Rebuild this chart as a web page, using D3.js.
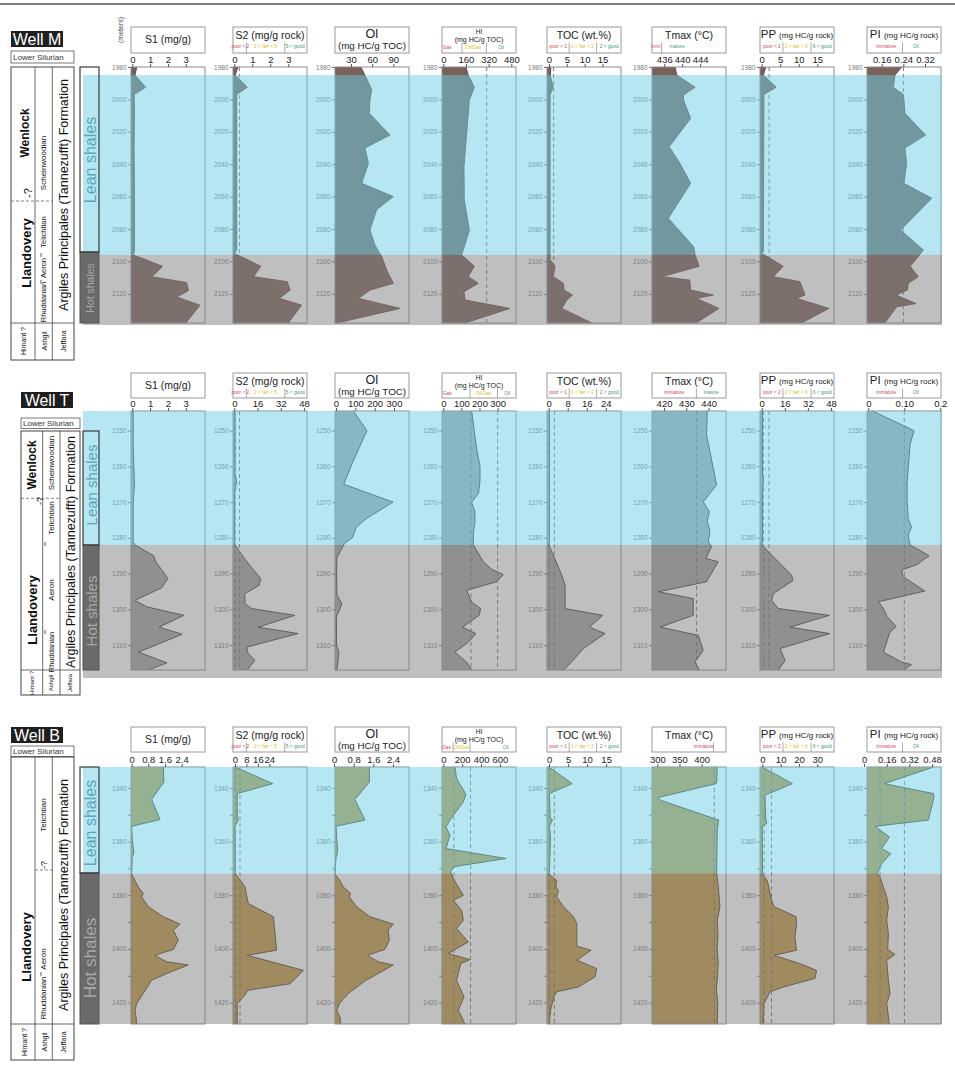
<!DOCTYPE html>
<html><head><meta charset="utf-8">
<script src="https://cdn.jsdelivr.net/npm/d3@7"></script>
<style>
body{margin:0;background:#fff}
svg{display:block}
text{font-family:"Liberation Sans",Arial,Helvetica,sans-serif}
</style>
</head><body>
<svg id="c" width="955" height="1076"></svg>
<script>
// ---------------- DATA (depth m, value) ----------------
// Well M
const M_S1 = [[1980,0.25],[1985,0.15],[1992.5,0.75],[1997,0.1],[2005,0.12],[2030,0.1],[2060,0.12],[2094,0.12],[2096,0.05],[2103,1.7],[2109.5,1.1],[2113,3.05],[2118,3.15],[2122,2.5],[2127,3.8],[2138,3.0]];
const M_S2 = [[1980,0.2],[1985,0.05],[1992.5,0.72],[1997,0.13],[2020,0.13],[2060,0.13],[2093,0.13],[2095,0],[2103,1.48],[2109.4,1.06],[2112.5,2.94],[2117.7,3.1],[2122.8,2.5],[2127,3.74],[2138,3.0]];
const M_OI = [[1980,44],[1988,53],[1994,59.3],[2000.4,56.9],[2008.6,55.9],[2022,85.3],[2030,49.8],[2039.5,54.6],[2051.8,45.1],[2060,90],[2068,66.4],[2080.6,56.9],[2090,64],[2097,73.5],[2105.3,80.5],[2113.5,90],[2117.7,57],[2122.8,40.4],[2129,99.4],[2138,10]];
const M_HI = [[1980,160],[1985,176],[1992.5,219],[2000.4,184],[2021,165],[2041.5,146],[2062,148],[2080.6,184],[2091,148],[2096,129],[2103,219],[2109.4,176],[2113.5,247],[2118.7,146],[2123.8,153],[2129,470],[2138,153]];
const M_TOC = [[1980,0.5],[1986,0.4],[1992.5,1.2],[1997,0.3],[2099,0.3],[2103,1.7],[2109.4,1.2],[2113.5,4],[2117.7,4.2],[2120.7,6.6],[2123.8,5],[2129,3.6],[2138,12]];
const M_TMAX = [[1980,438.4],[1985,438.8],[1992.5,442.9],[1997.3,440.3],[2000.4,440.3],[2011.7,441.9],[2029.2,437.1],[2039.5,439.5],[2051.8,441.9],[2073.4,436.9],[2091,442.6],[2096,442.9],[2103,443.8],[2109.4,435.4],[2111.5,441.7],[2117.7,441.9],[2120.7,447],[2122.8,443.2],[2129,448.2],[2138,443.1]];
const M_PP = [[1980,1.1],[1985,0.45],[1992.5,3.9],[1997,0.6],[2094,0.45],[2095,0],[2103,5.8],[2109.4,3.1],[2112.5,10.3],[2120.7,11.7],[2122.8,9.4],[2129,18.1],[2138,10.8]];
const M_PI = [[1980,0.234],[1985,0.209],[1992.5,0.203],[1997,0.24],[2000.4,0.242],[2008.6,0.246],[2022,0.322],[2030,0.246],[2039.5,0.252],[2051.8,0.242],[2061,0.345],[2080.6,0.23],[2093,0.314],[2103,0.265],[2109.4,0.295],[2113.5,0.258],[2117.7,0.255],[2120.7,0.213],[2126,0.287],[2128,0.215],[2138,0.172]];
// Well T
const T_S1 = [[1244.5,0.05],[1255,0.05],[1265,0.12],[1270,0.05],[1281,0.05],[1282,0.15],[1285,1.2],[1286.5,1.3],[1291.4,2.0],[1294,1.65],[1297.5,0.15],[1299.3,0.8],[1301.7,2.9],[1305,1.5],[1307,2.8],[1312,0.35],[1315,1.95],[1317,0.9]];
const T_S2 = [[1244.5,0.5],[1262,0.5],[1264.3,1.6],[1267,0.3],[1281,0.3],[1282,0.5],[1286,7.3],[1291.4,18.1],[1293.3,17.2],[1295.6,7.3],[1298.4,7.3],[1299.8,12],[1301.7,41.8],[1305,16.5],[1306.8,44],[1310.6,8.5],[1312.4,9.6],[1314.3,14.2],[1317,9]];
const T_OI = [[1244.5,90],[1250,160],[1259,85],[1265,40],[1270,295],[1274.5,160],[1277,105],[1280,85],[1281.5,45],[1285.5,5],[1290,3],[1296,5],[1298.5,30],[1300,20],[1302,2],[1310,3],[1312,15],[1317,5]];
const T_HI = [[1244.5,157],[1250,171],[1255,184],[1260,203],[1264,203],[1267.5,195],[1270,157],[1272.7,175],[1275.5,175],[1278.8,166],[1282,166],[1286.7,221],[1288.8,267],[1290.3,331],[1292.3,295],[1294.7,129],[1298,157],[1299.8,206],[1301.7,198],[1305,107],[1306.8,180],[1309.2,138],[1312,64],[1314.8,129],[1317,157]];
const T_TOC = [[1244.5,0.3],[1281,0.3],[1282,0],[1286,2.7],[1290.5,5.5],[1293.3,6.9],[1299.8,6.9],[1301.7,22.7],[1305,17.1],[1306.8,23.7],[1311,14.6],[1315.7,8.3],[1317,6.2]];
const T_TMAX = [[1244.5,439.4],[1251.2,439.1],[1265.2,443.6],[1269.9,437.6],[1272.7,440.3],[1275.5,439.4],[1277.9,440.6],[1281.1,439.9],[1282.5,441.3],[1285.8,438.8],[1286.7,444.3],[1291.4,439.9],[1292.3,439.1],[1295.1,417.5],[1297,433.1],[1301.7,433.1],[1305,418.2],[1307.3,435.4],[1311.5,437.6],[1314.8,433.9],[1317,435.8]];
const T_PP = [[1244.5,0.5],[1262,0.5],[1264,1.2],[1267,0.5],[1281,0.5],[1282,0],[1290.5,20.8],[1292,21.5],[1295.6,8.1],[1297.5,6.9],[1299.8,11.5],[1301.7,46.9],[1305,19.6],[1306.8,47.3],[1311,12.7],[1314.3,16.2],[1317,11.5]];
const T_PI = [[1244.5,0.012],[1250,0.127],[1254,0.116],[1264.3,0.108],[1270,0.108],[1274.6,0.111],[1277,0.12],[1279.3,0.111],[1282,0.116],[1285,0.169],[1287.5,0.135],[1289,0.093],[1290.5,0.095],[1291.5,0.106],[1294.9,0.157],[1297.9,0.028],[1299.8,0.042],[1301.9,0.051],[1304.8,0.077],[1306.4,0.06],[1312,0.042],[1314.8,0.093],[1315.5,0.12],[1317,0.097]];
// Well B
const B_S1 = [[1332.2,1.52],[1337.8,1.55],[1344.3,0.96],[1351.8,1.36],[1354.3,0],[1360,0.04],[1363.9,0.11],[1366,0.03],[1372.2,0],[1374.5,0.16],[1376.9,0.32],[1379.4,0.56],[1380.6,0.48],[1384.3,0.8],[1388,1.52],[1390.8,2.32],[1393,2.0],[1396.8,2.24],[1400.2,2.0],[1402.4,1.12],[1404.8,1.68],[1406,2.72],[1409.2,1.68],[1411.7,0.96],[1416.6,0.56],[1420.4,0.24],[1422.9,0.16],[1425.3,0.21],[1428,0.24]];
const B_S2 = [[1332.2,0],[1338.4,26.3],[1342.1,1.6],[1350,1.6],[1352,2.3],[1354.3,0],[1372,0.2],[1376.9,7],[1380,8.1],[1383.1,9.3],[1388,26.8],[1394.3,28],[1400.5,29.1],[1402.4,8.6],[1408,47.8],[1413,38.5],[1415.4,9.3],[1417.9,5.8],[1420.4,1.6],[1428,1.6]];
const B_OI = [[1332.2,1.44],[1337.8,1.44],[1344.3,0.85],[1352,1.26],[1354.3,0.08],[1363.9,0.15],[1366,0.08],[1372.2,0.04],[1374.5,0.24],[1376.9,0.38],[1379.4,0.68],[1380.6,0.62],[1384.3,0.92],[1388,1.46],[1390.8,2.41],[1393,2.2],[1396.8,2.25],[1400.2,2.07],[1402.4,1.36],[1404.8,1.8],[1406,2.41],[1409.2,1.8],[1411.7,1.3],[1416.6,0.58],[1420.4,0.22],[1422.9,0.11],[1425.3,0.24],[1428,0.27]];
const B_HI = [[1332.2,124],[1336.5,141],[1342.4,240],[1345.2,212],[1352,71],[1354.5,28],[1357.6,71],[1362.6,28],[1366.3,664],[1369.4,106],[1371.3,78],[1373.8,106],[1380,212],[1381.9,106],[1385.6,194],[1389.3,212],[1392.4,141],[1397.4,265],[1401.7,53],[1404,282],[1405.5,184],[1411.7,141],[1417.9,219],[1422.9,159],[1428,229]];
const B_TOC = [[1332.2,0],[1338.4,6.1],[1342.1,0.1],[1351,0.3],[1352,0.9],[1354.3,0.1],[1358,0.4],[1372,0.1],[1372.2,0],[1374.5,2.0],[1376.9,1.8],[1378.2,2.5],[1380.6,2.0],[1384.3,3.8],[1388,6.4],[1390.5,7.3],[1399,7.3],[1400.5,11.05],[1404.2,7.3],[1407.3,12.5],[1410.4,12.1],[1414.2,7.7],[1416,2.0],[1417.9,1.3],[1422.9,0.4],[1428,0.1]];
const B_TMAX = [[1332.2,435.3],[1337.8,433.8],[1338.4,432],[1343.6,302],[1344.6,307.5],[1352,438.3],[1355.7,435.3],[1372,434],[1376.9,437.8],[1384.3,441.3],[1389.3,435.3],[1395,437],[1400,435],[1405,437.5],[1410,436],[1415,433.5],[1420,436.5],[1428,435.3]];
const B_PP = [[1332.2,0],[1338.4,16.4],[1342.7,1.5],[1350.8,1.8],[1353.3,2.4],[1354.3,0],[1372,0.1],[1372.2,0],[1374.5,2.7],[1376.9,3.5],[1379.4,4.2],[1381.9,5.1],[1384.3,6.5],[1388,18.4],[1390.5,18.7],[1395.5,17.8],[1400.5,18.7],[1402.4,6.4],[1405.5,20.5],[1408,29.6],[1411,28.7],[1414.2,11.5],[1416,4.2],[1418.5,2.4],[1420.4,0.9],[1428,0.5]];
const B_PI = [[1332.2,0.49],[1338.4,0.144],[1342.1,0.49],[1343.4,0.494],[1352,0.454],[1354.3,0.078],[1358.3,0.179],[1362.6,0.125],[1364.5,0.188],[1368.2,0.125],[1372,0.094],[1373.2,0.113],[1376.9,0.136],[1380.6,0.16],[1384.3,0.172],[1389.3,0.16],[1394.3,0.172],[1400.2,0.167],[1402.1,0.219],[1404.2,0.16],[1411.7,0.172],[1416.6,0.184],[1420.4,0.16],[1428,0.179]];

// x domains of each panel (S1,S2,OI,HI,TOC,Tmax,PP,PI)
const M_DOMAINS = [[-0.073,4.08],[-0.072,4.04],[7.3,112.2],[-9.2,513],[-0.56,20.2],[433.25,449.8],[-0.46,19.5],[0.1057,0.379]];
const T_DOMAINS = [[-0.073,4.08],[-0.9,50.1],[-5.2,377.6],[-7.2,401.7],[-0.72,30.4],[414.6,447.8],[-1.2,50.1],[-0.0036,0.202]];
const B_DOMAINS = [[-0.03,3.52],[-1.4,50.3],[0.04,3.05],[-13.8,770],[-0.53,18.9],[288,455],[-1.25,39.1],[0.021,0.543]];
// tick labels
const M_TICKS = [["0","1","2","3"],["0","1","2","3"],["30","60","90"],["0","160","320","480"],["0","5","10","15"],["436","440","444"],["0","5","10","15"],["0.16","0.24","0.32"]];
const T_TICKS = [["0","1","2","3"],["0","16","32","48"],["0","100","200","300"],["0","100","200","300"],["0","8","16","24"],["420","430","440"],["0","16","32","48"],["0","0.10","0.2"]];
const B_TICKS = [["0","0.8","1.6","2.4"],["0","8","16","24"],["0","0.8","1.6","2.4"],["0","200","400","600"],["0","5","10","15"],["300","350","400"],["0","10","20","30"],["0","0.16","0.32","0.48"]];
// dashed threshold lines
const M_DASH = [[],[0.05,0.28],[],[134,306],[0.15,1.3],[435.3],[2],[0.24]];
const T_DASH = [[],[0.5,3.6],[],[153,300],[0.3,2.4],[434.6],[1.2,5],[0.1]];
const B_DASH = [[],[0.3,3.5],[],[113,289],[0.1,1.4],[428.6],[1,5],[0.113,0.285]];
// depth ticks
const DEPTH_TICKS_M = [1980,2000,2020,2040,2060,2080,2100,2120];
const DEPTH_TICKS_T = [1250,1260,1270,1280,1290,1300,1310];
const DEPTH_TICKS_B = [1340,1360,1380,1400,1420];
const DEPTH_MINOR_B = [1350,1370,1390,1410];
// shale intervals (lean, hot)
const M_LEAN = [1985,2096], M_HOT = [2096,2138];
const T_LEAN = [1244.5,1282], T_HOT = [1282,1317];
const B_LEAN = [1332.2,1372], B_HOT = [1372,1428];
// titles
const TITLES = ["S1 (mg/g)","S2 (mg/g rock)","OI","HI","TOC (wt.%)","Tmax (°C)","PP","PI"];
const SUBTITLES = ["","","(mg HC/g TOC)","(mg HC/g TOC)","","","(mg HC/g rock)","(mg HC/g rock)"];
// legends: [label, colour, centre fraction], separators
const S2_LEG = {items:[["poor < 2","r",0.10],["2 < fair < 5","y",0.44],["5 < good","g",0.84]], seps:[0.18,0.70]};
const HI_LEG_M = {items:[["Gas","r",0.07],["Oil/Gas","y",0.42],["Oil","g",0.8]], seps:[0.27,0.6]};
const HI_LEG_T = {items:[["Gas","r",0.07],["Oil/Gas","y",0.56],["Oil","g",0.88]], seps:[0.38,0.75]};
const HI_LEG_B = {items:[["Gas","r",0.06],["Oil/Gas","y",0.265],["Oil","g",0.86]], seps:[0.15,0.38]};
const TOC_LEG = {items:[["poor < 1","r",0.15],["1 < fair < 2","y",0.48],["2 < good","g",0.84]], seps:[0.3,0.67]};
const TMAX_LEG_M = {items:[["imm.","r",0.06],["mature","g",0.34]], seps:[0.13]};
const TMAX_LEG_T = {items:[["immature","r",0.3],["mature","g",0.8]], seps:[0.6]};
const TMAX_LEG_B = {items:[["immature","r",0.7]], seps:[0.83]};
const PP_LEG = {items:[["poor < 2","r",0.16],["2 < fair < 6","y",0.49],["6 < good","g",0.84]], seps:[0.31,0.69]};
const PI_LEG = {items:[["immature","r",0.26],["Oil","g",0.66]], seps:[0.48]};

// ---------------- LAYOUT ----------------
const PX = [131,233,335,442,547,652,760,867], PW = 74;
const LEGC = {r:"#d2455a", y:"#d6bf1a", g:"#3a9a78"};
const BAND_X0 = 83, BAND_X1 = 942;

const WELLS = [
 {series:[M_S1,M_S2,M_OI,M_HI,M_TOC,M_TMAX,M_PP,M_PI], domains:M_DOMAINS, ticks:M_TICKS, dashes:M_DASH,
  depth:[1980,2138], yr:[67,323], titleTop:27, titleH:26, depthTicks:DEPTH_TICKS_M, minor:[],
  lean:M_LEAN, hot:M_HOT, hotExtra:2, fill:"#7a6058", stroke:"#5a443e",
  legends:[null,S2_LEG,null,HI_LEG_M,TOC_LEG,TMAX_LEG_M,PP_LEG,PI_LEG]},
 {series:[T_S1,T_S2,T_OI,T_HI,T_TOC,T_TMAX,T_PP,T_PI], domains:T_DOMAINS, ticks:T_TICKS, dashes:T_DASH,
  depth:[1244.5,1317], yr:[411,670], titleTop:373, titleH:25, depthTicks:DEPTH_TICKS_T, minor:[],
  lean:T_LEAN, hot:T_HOT, hotExtra:8, fill:"#a0a0a0", stroke:"#303030",
  legends:[null,S2_LEG,null,HI_LEG_T,TOC_LEG,TMAX_LEG_T,PP_LEG,PI_LEG]},
 {series:[B_S1,B_S2,B_OI,B_HI,B_TOC,B_TMAX,B_PP,B_PI], domains:B_DOMAINS, ticks:B_TICKS, dashes:B_DASH,
  depth:[1332.2,1428], yr:[767,1024], titleTop:727, titleH:25, depthTicks:DEPTH_TICKS_B, minor:DEPTH_MINOR_B,
  lean:B_LEAN, hot:B_HOT, hotExtra:0, fill:"#c09440", stroke:"#3c3420",
  legends:[null,S2_LEG,null,HI_LEG_B,TOC_LEG,TMAX_LEG_B,PP_LEG,PI_LEG]}
];

const ARG = "Argiles Principales (Tannezufft) Formation";
const STRAT = [
 {name:"Well M", nameBox:[11,31,52,16], lsBox:[11,51,63,12], col:[11,67,63,293], vx:[35,52.3], rowY:323,
  dash:[11,52.3,201], seps:[[41,255],[41,282]],
  lean:[80,67,19,185], hot:[80,252,19,71], leanT:[90.5,160,16], hotT:[90,288,10.5],
  texts:[["Wenlock",25,133,12,"bold"],["-?",28,193,11,"normal"],["Llandovery",26,253,13,"bold"],
   ["Scheinwoodian",43.5,163,8,"normal"],["Telichtian",43.5,232,7.5,"normal"],["Aeron",43.5,268,7.5,"normal"],["Rhuddanian",43.5,302,7.5,"normal"],
   [ARG,64,195,12.5,"normal"],["Himant ?",23,341,7,"normal"],["Ashgil",44,341,7,"normal"],["Jeffara",63.5,341,7,"normal"]]},
 {name:"Well T", nameBox:[21,392,52,16], lsBox:[21,418,59,10.5], col:[21,431,59,264], vx:[42.7,60], rowY:670,
  dash:[21,60,498.3], seps:[[45,544],[45,632]],
  lean:[83,431,16,114], hot:[83,545,16,125], leanT:[91,485,15], hotT:[91,611,15],
  texts:[["Wenlock",32,465,12,"bold"],["-?",40,501,9,"normal"],["Llandovery",32,610,13,"bold"],
   ["Scheinwoodian",51,463,8,"normal"],["Telichtian",51,518,8,"normal"],["Aeron",51,590,8,"normal"],["Rhuddanian",51,652,7.5,"normal"],
   [ARG,71,552,12.5,"normal"],["Himant ?",32,683,6,"normal"],["Ashgil",51,683,6,"normal"],["Jeffara",70,683,6,"normal"]]},
 {name:"Well B", nameBox:[11,727,52,16], lsBox:[11,746,63,10.5], col:[11,757,63,303], vx:[35,52.3], rowY:1024,
  dash:[35,52.3,870], seps:[[41,974]],
  lean:[80,767,19,106], hot:[80,873,19,151], leanT:[90,823,16], hotT:[90,958,17],
  texts:[["Llandovery",26.7,947,13,"bold"],["Telichtian",43.5,815,8,"normal"],["-?",44,865,9,"normal"],
   ["Aeron",43.5,959,8,"normal"],["Rhuddanian",43.5,998,8,"normal"],
   [ARG,63.5,895,12.5,"normal"],["Himant ?",24,1042,7,"normal"],["Ashgil",44,1042,7,"normal"],["Jeffara",63.5,1042,7,"normal"]]}
];

// ---------------- DRAW ----------------
const svg = d3.select("#c");
svg.append("rect").attr("width",955).attr("height",1076).attr("fill","#fff");
svg.append("line").attr("x1",0).attr("x2",955).attr("y1",4).attr("y2",4).attr("stroke","#555").attr("stroke-width",1.5);
svg.append("text").attr("transform","translate(120,30) rotate(-90)").attr("text-anchor","middle")
  .attr("dominant-baseline","central").attr("font-size",7).attr("fill","#444").text("(meters)");

function drawWell(w){
  const g = svg.append("g");
  const y = d3.scaleLinear().domain(w.depth).range(w.yr);
  PX.forEach((px,i)=>{
    const x = d3.scaleLinear().domain(w.domains[i]).range([px,px+PW]);
    const ty = w.titleTop, th = w.titleH;
    // title box
    g.append("rect").attr("x",px).attr("y",ty).attr("width",PW).attr("height",th)
      .attr("fill","#fff").attr("stroke","#9a9a9a").attr("stroke-width",1);
    const cx = px+PW/2;
    const leg = w.legends[i];
    if(i===0){
      g.append("text").attr("x",cx).attr("y",ty+16).attr("text-anchor","middle").attr("font-size",10.5).attr("fill","#222").text(TITLES[i]);
    } else if(i===2){
      g.append("text").attr("x",cx).attr("y",ty+10.5).attr("text-anchor","middle").attr("font-size",12.5).attr("fill","#222").text(TITLES[i]);
      g.append("text").attr("x",cx).attr("y",ty+22).attr("text-anchor","middle").attr("font-size",9.8).attr("fill","#222").text(SUBTITLES[i]);
    } else if(i===3){
      g.append("text").attr("x",cx).attr("y",ty+7).attr("text-anchor","middle").attr("font-size",6.5).attr("fill","#222").text(TITLES[i]);
      g.append("text").attr("x",cx).attr("y",ty+14.5).attr("text-anchor","middle").attr("font-size",7).attr("fill","#222").text(SUBTITLES[i]);
    } else if(i===6 || i===7){
      const t = g.append("text").attr("x",cx).attr("y",ty+11).attr("text-anchor","middle").attr("fill","#222");
      t.append("tspan").attr("font-size",11.5).text(TITLES[i]+" ");
      t.append("tspan").attr("font-size",8).text(SUBTITLES[i]);
    } else {
      g.append("text").attr("x",cx).attr("y",ty+12).attr("text-anchor","middle").attr("font-size",10.5).attr("fill","#222").text(TITLES[i]);
    }
    if(leg){
      const ly = i===3 ? ty+21.5 : ty+20.5;
      leg.seps.forEach(f=>{
        g.append("line").attr("x1",px+f*PW).attr("x2",px+f*PW).attr("y1",ty+15.5).attr("y2",ty+th)
          .attr("stroke","#888").attr("stroke-width",0.7);
      });
      leg.items.forEach(it=>{
        g.append("text").attr("x",px+it[2]*PW).attr("y",ly).attr("text-anchor","middle")
          .attr("font-size",4.8).attr("fill",LEGC[it[1]]).text(it[0]);
      });
    }
    // series fill
    const data = w.series[i];
    const area = d3.area().y(d=>y(d[0])).x0(px).x1(d=>x(d[1]));
    g.append("path").datum(data).attr("d",area).attr("fill",w.fill);
    g.append("path").datum(data).attr("d",d3.line().y(d=>y(d[0])).x(d=>x(d[1])))
      .attr("fill","none").attr("stroke",w.stroke).attr("stroke-width",0.9);
    // thresholds
    w.dashes[i].forEach(v=>{
      g.append("line").attr("x1",x(v)).attr("x2",x(v)).attr("y1",w.yr[0]).attr("y2",w.yr[1])
        .attr("stroke","#666").attr("stroke-width",0.9).attr("stroke-dasharray","4,3");
    });
    // plot box
    g.append("rect").attr("x",px).attr("y",w.yr[0]).attr("width",PW).attr("height",w.yr[1]-w.yr[0])
      .attr("fill","none").attr("stroke","#8c8c8c").attr("stroke-width",1);
    // top axis
    const tv = w.ticks[i].map(Number);
    const ax = d3.axisTop(x).tickValues(tv).tickFormat((d,j)=>w.ticks[i][j]).tickSize(3).tickPadding(1.5);
    const ag = g.append("g").attr("transform",`translate(0,${w.yr[0]})`).call(ax);
    ag.select(".domain").remove();
    ag.selectAll(".tick line").attr("stroke","#555");
    ag.selectAll(".tick text").attr("font-size",9.5).attr("fill","#222");
    // depth axis
    const ay = d3.axisLeft(y).tickValues(w.depthTicks).tickFormat(d3.format("d")).tickSize(3).tickPadding(1.5);
    const dg = g.append("g").attr("transform",`translate(${px},0)`).call(ay);
    dg.select(".domain").remove();
    dg.selectAll(".tick line").attr("stroke","#777");
    dg.selectAll(".tick text").attr("font-size",6.5).attr("fill","#777");
    if(w.minor.length){
      const mg = g.append("g").attr("transform",`translate(${px},0)`)
        .call(d3.axisLeft(y).tickValues(w.minor).tickFormat("").tickSize(3));
      mg.select(".domain").remove();
      mg.selectAll(".tick line").attr("stroke","#777");
    }
  });
  // bands (overlays)
  svg.append("rect").attr("x",BAND_X0).attr("width",BAND_X1-BAND_X0)
    .attr("y",y(w.lean[0])).attr("height",y(w.lean[1])-y(w.lean[0]))
    .attr("fill","rgb(108,206,228)").attr("opacity",0.5);
  svg.append("rect").attr("x",BAND_X0).attr("width",BAND_X1-BAND_X0)
    .attr("y",y(w.hot[0])).attr("height",y(w.hot[1])-y(w.hot[0])+w.hotExtra)
    .attr("fill","rgb(128,128,128)").attr("opacity",0.5);
}
WELLS.forEach(drawWell);

function rtext(g,x,y,txt,size,weight,fill){
  g.append("text").attr("transform",`translate(${x},${y}) rotate(-90)`).attr("text-anchor","middle")
    .attr("dominant-baseline","central").attr("font-size",size).attr("font-weight",weight||"normal")
    .attr("fill",fill||"#111").text(txt);
}

STRAT.forEach(s=>{
  const g = svg.append("g");
  const nb = s.nameBox;
  g.append("rect").attr("x",nb[0]).attr("y",nb[1]).attr("width",nb[2]).attr("height",nb[3]).attr("fill","#1f1f1f");
  g.append("text").attr("x",nb[0]+nb[2]/2).attr("y",nb[1]+nb[3]/2).attr("text-anchor","middle")
    .attr("dominant-baseline","central").attr("font-size",16).attr("fill","#fff").text(s.name);
  const lb = s.lsBox;
  g.append("rect").attr("x",lb[0]).attr("y",lb[1]).attr("width",lb[2]).attr("height",lb[3])
    .attr("fill","#fff").attr("stroke","#555").attr("stroke-width",0.8);
  g.append("text").attr("x",lb[0]+2).attr("y",lb[1]+lb[3]/2).attr("dominant-baseline","central")
    .attr("font-size",8).attr("fill","#333").text("Lower Silurian");
  const c = s.col;
  g.append("rect").attr("x",c[0]).attr("y",c[1]).attr("width",c[2]).attr("height",c[3])
    .attr("fill","#fff").attr("stroke","#444").attr("stroke-width",1);
  s.vx.forEach(vx=>g.append("line").attr("x1",vx).attr("x2",vx).attr("y1",c[1]).attr("y2",c[1]+c[3]).attr("stroke","#444").attr("stroke-width",0.8));
  g.append("line").attr("x1",c[0]).attr("x2",c[0]+c[2]).attr("y1",s.rowY).attr("y2",s.rowY).attr("stroke","#444").attr("stroke-width",0.8);
  g.append("line").attr("x1",s.dash[0]).attr("x2",s.dash[1]).attr("y1",s.dash[2]).attr("y2",s.dash[2])
    .attr("stroke","#666").attr("stroke-width",0.8).attr("stroke-dasharray","3,2");
  s.seps.forEach(p=>g.append("line").attr("x1",p[0]).attr("x2",p[0]).attr("y1",p[1]-2).attr("y2",p[1]+2).attr("stroke","#333").attr("stroke-width",0.8));
  s.texts.forEach(t=>rtext(g,t[1],t[2],t[0],t[3],t[4]));
  // shale column
  const le = s.lean, ho = s.hot;
  g.append("rect").attr("x",ho[0]).attr("y",ho[1]).attr("width",ho[2]).attr("height",ho[3]).attr("fill","#6a6a6a").attr("stroke","#555").attr("stroke-width",1);
  g.append("rect").attr("x",le[0]).attr("y",le[1]).attr("width",le[2]).attr("height",le[3]).attr("fill","none").attr("stroke","#3a3a3a").attr("stroke-width",1.2);
  rtext(g,s.leanT[0],s.leanT[1],"Lean shales",s.leanT[2],"normal","#5aa7b9");
  rtext(g,s.hotT[0],s.hotT[1],"Hot shales",s.hotT[2],"normal","#a9a9a9");
});
</script>
</body></html>
